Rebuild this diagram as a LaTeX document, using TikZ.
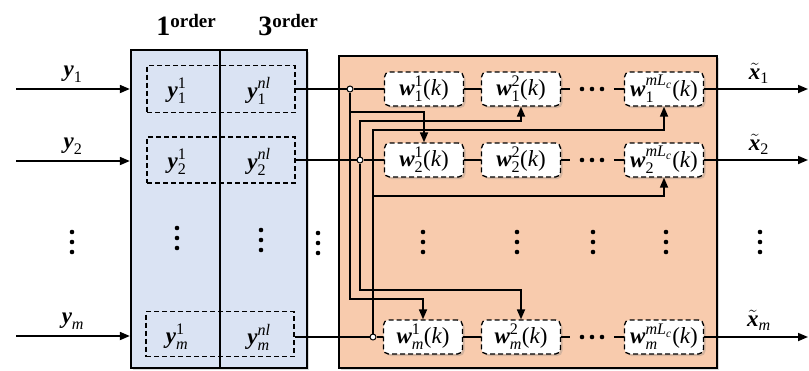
\documentclass[tikz,border=0pt]{standalone}
\usepackage{amsmath}
\usepackage{fontspec}
\setmainfont{Liberation Serif}
\usetikzlibrary{arrows.meta,shadows}
\definecolor{bluef}{RGB}{218,227,243}
\definecolor{orangef}{RGB}{248,203,173}
\newcommand{\bi}[1]{\text{\bfseries\itshape #1}}
\newcommand{\tx}[1]{\text{#1}}
\newcommand{\itx}[1]{\text{\itshape #1}}
\newcommand{\wk}[2]{$\bi{w}^{#2}_{#1}\tx{(\itshape k\upshape)}$}
\newcommand{\ord}[1]{{\fontsize{28}{28}\selectfont\bfseries #1\raisebox{8pt}{\fontsize{19}{19}\selectfont order}}}
\begin{document}
\begin{tikzpicture}[x=1pt, y=-1pt, line width=1.7pt, font=\fontsize{23}{25}\selectfont,
  arr/.style={-{Triangle[length=10pt,width=8pt]}},
  shd/.style={drop shadow={opacity=0.3, shadow xshift=2pt, shadow yshift=-2pt}},
  panel/.style={draw, line width=2.3pt, fill=bluef, minimum height=318pt, minimum width=#1, inner sep=0pt, shd},
  rowbox/.style={draw, dashed, line width=1.3pt, dash pattern=on 5pt off 3pt, minimum width=148pt, minimum height=#1, inner sep=0pt},
  wbox/.style={draw, fill=white, rounded corners=5pt, line width=1.3pt, dash pattern=on 5pt off 3pt, minimum width=79pt, minimum height=34pt, inner sep=0pt, shd},
  junc/.style={draw, circle, fill=white, line width=1pt, minimum size=6pt, inner sep=0pt},
  dotsn/.style={minimum width=42pt, inner sep=0pt}]
\useasboundingbox (0,0) rectangle (809,370);
\node[panel=89pt] (p1) at (175.5,209) {};
\node[panel=87pt] (p3) at (263.5,209) {};
\node[draw, fill=orangef, minimum width=378pt, minimum height=312pt, inner sep=0pt, shd] (op) at (528,212) {};
\node (h1) at (186,25) {\ord{1}};
\node (h3) at (288,25) {\ord{3}};
\node[rowbox=47pt] (r1) at (221,89) {};
\node[rowbox=46pt] (r2) at (221,160) {};
\node[rowbox=45pt] (rm) at (220,334) {};
\node (a1) at (177,91) {$\bi{y}^{\tx{1}}_{\tx{1}}$};
\node (b1) at (259,91) {$\bi{y}^{\itx{nl}}_{\tx{1}}$};
\node (a2) at (177,162) {$\bi{y}^{\tx{1}}_{\tx{2}}$};
\node (b2) at (259,162) {$\bi{y}^{\itx{nl}}_{\tx{2}}$};
\node (am) at (177,337) {$\bi{y}^{\tx{1}}_{\itx{m}}$};
\node (bm) at (259,337) {$\bi{y}^{\itx{nl}}_{\itx{m}}$};
\coordinate (in1) at (16,89);
\coordinate (in2) at (16,161);
\coordinate (inm) at (16,336);
\draw[arr] (in1) -- node[above=2pt] (l1) {$\bi{y}_{\tx{1}}$} (in1 -| p1.west);
\draw[arr] (in2) -- node[above=2pt] (l2) {$\bi{y}_{\tx{2}}$} (in2 -| p1.west);
\draw[arr] (inm) -- node[above=2pt] (lm) {$\bi{y}_{\itx{m}}$} (inm -| p1.west);
\node[wbox] (w11) at (424,89) {\wk{\tx{1}}{\tx{1}}};
\node[wbox] (w12) at (521,89) {\wk{\tx{1}}{\tx{2}}};
\node[wbox] (w1L) at (664,89) {\wk{\tx{1}}{\itx{m}\itx{L}_{\itx{c}}}};
\node[wbox] (w21) at (424,160) {\wk{\tx{2}}{\tx{1}}};
\node[wbox] (w22) at (521,160) {\wk{\tx{2}}{\tx{2}}};
\node[wbox] (w2L) at (664,160) {\wk{\tx{2}}{\itx{m}\itx{L}_{\itx{c}}}};
\node[wbox] (wm1) at (423,337) {\wk{\itx{m}}{\tx{1}}};
\node[wbox] (wm2) at (521,337) {\wk{\itx{m}}{\tx{2}}};
\node[wbox] (wmL) at (664,337) {\wk{\itx{m}}{\itx{m}\itx{L}_{\itx{c}}}};
\node[dotsn] (d1) at (592,89) {};
\node[dotsn] (d2) at (592,160) {};
\node[dotsn] (dm) at (592,337) {};
\node[junc] (j1) at (350,89) {};
\node[junc] (j2) at (360,160) {};
\node[junc] (jm) at (373,337) {};
\draw (r1.east) -- (j1) -- (w11) -- (w12) -- (d1) -- (w1L);
\draw (r2.east |- j2) -- (j2) -- (w21) -- (w22) -- (d2) -- (w2L);
\draw (rm.east |- jm) -- (jm) -- (wm1) -- (wm2) -- (dm) -- (wmL);
\foreach \d in {d1,d2,dm}
  \foreach \k in {-10,0,10}
    \fill ([xshift=\k pt]\d) circle (2.3pt);
\draw[arr] (j1) |- (w21.north |- 0,112) -- (w21.north);
\draw[arr] (j1) |- (wm1.north |- 0,299) -- (wm1.north);
\draw[arr] (j2) |- (w12.south |- 0,121) -- (w12.south);
\draw[arr] (j2) |- (wm2.north |- 0,290) -- (wm2.north);
\draw[arr] (jm) |- (w1L.south |- 0,130) -- (w1L.south);
\draw[arr] (jm) |- (w2L.south |- 0,196) -- (w2L.south);
\coordinate (o1) at (808,89);
\coordinate (o2) at (808,160);
\coordinate (om) at (808,337);
\draw[arr] (w1L) -- (o1);
\draw[arr] (w2L) -- (o2);
\draw[arr] (wmL) -- (om);
\node (x1) at (759,73) {$\tilde{\bi{x}}_{\tx{1}}$};
\node (x2) at (759,144) {$\tilde{\bi{x}}_{\tx{2}}$};
\node (xm) at (759,320) {$\tilde{\bi{x}}_{\itx{m}}$};
\foreach \x/\y in {72/232, 177/228, 261/230, 318/233, 423/232, 517/232, 593/232, 666/232, 760/232}
  \foreach \k in {0,1,2}
    \fill (\x,\y+\k*10) circle (2.3pt);
\end{tikzpicture}
\end{document}
